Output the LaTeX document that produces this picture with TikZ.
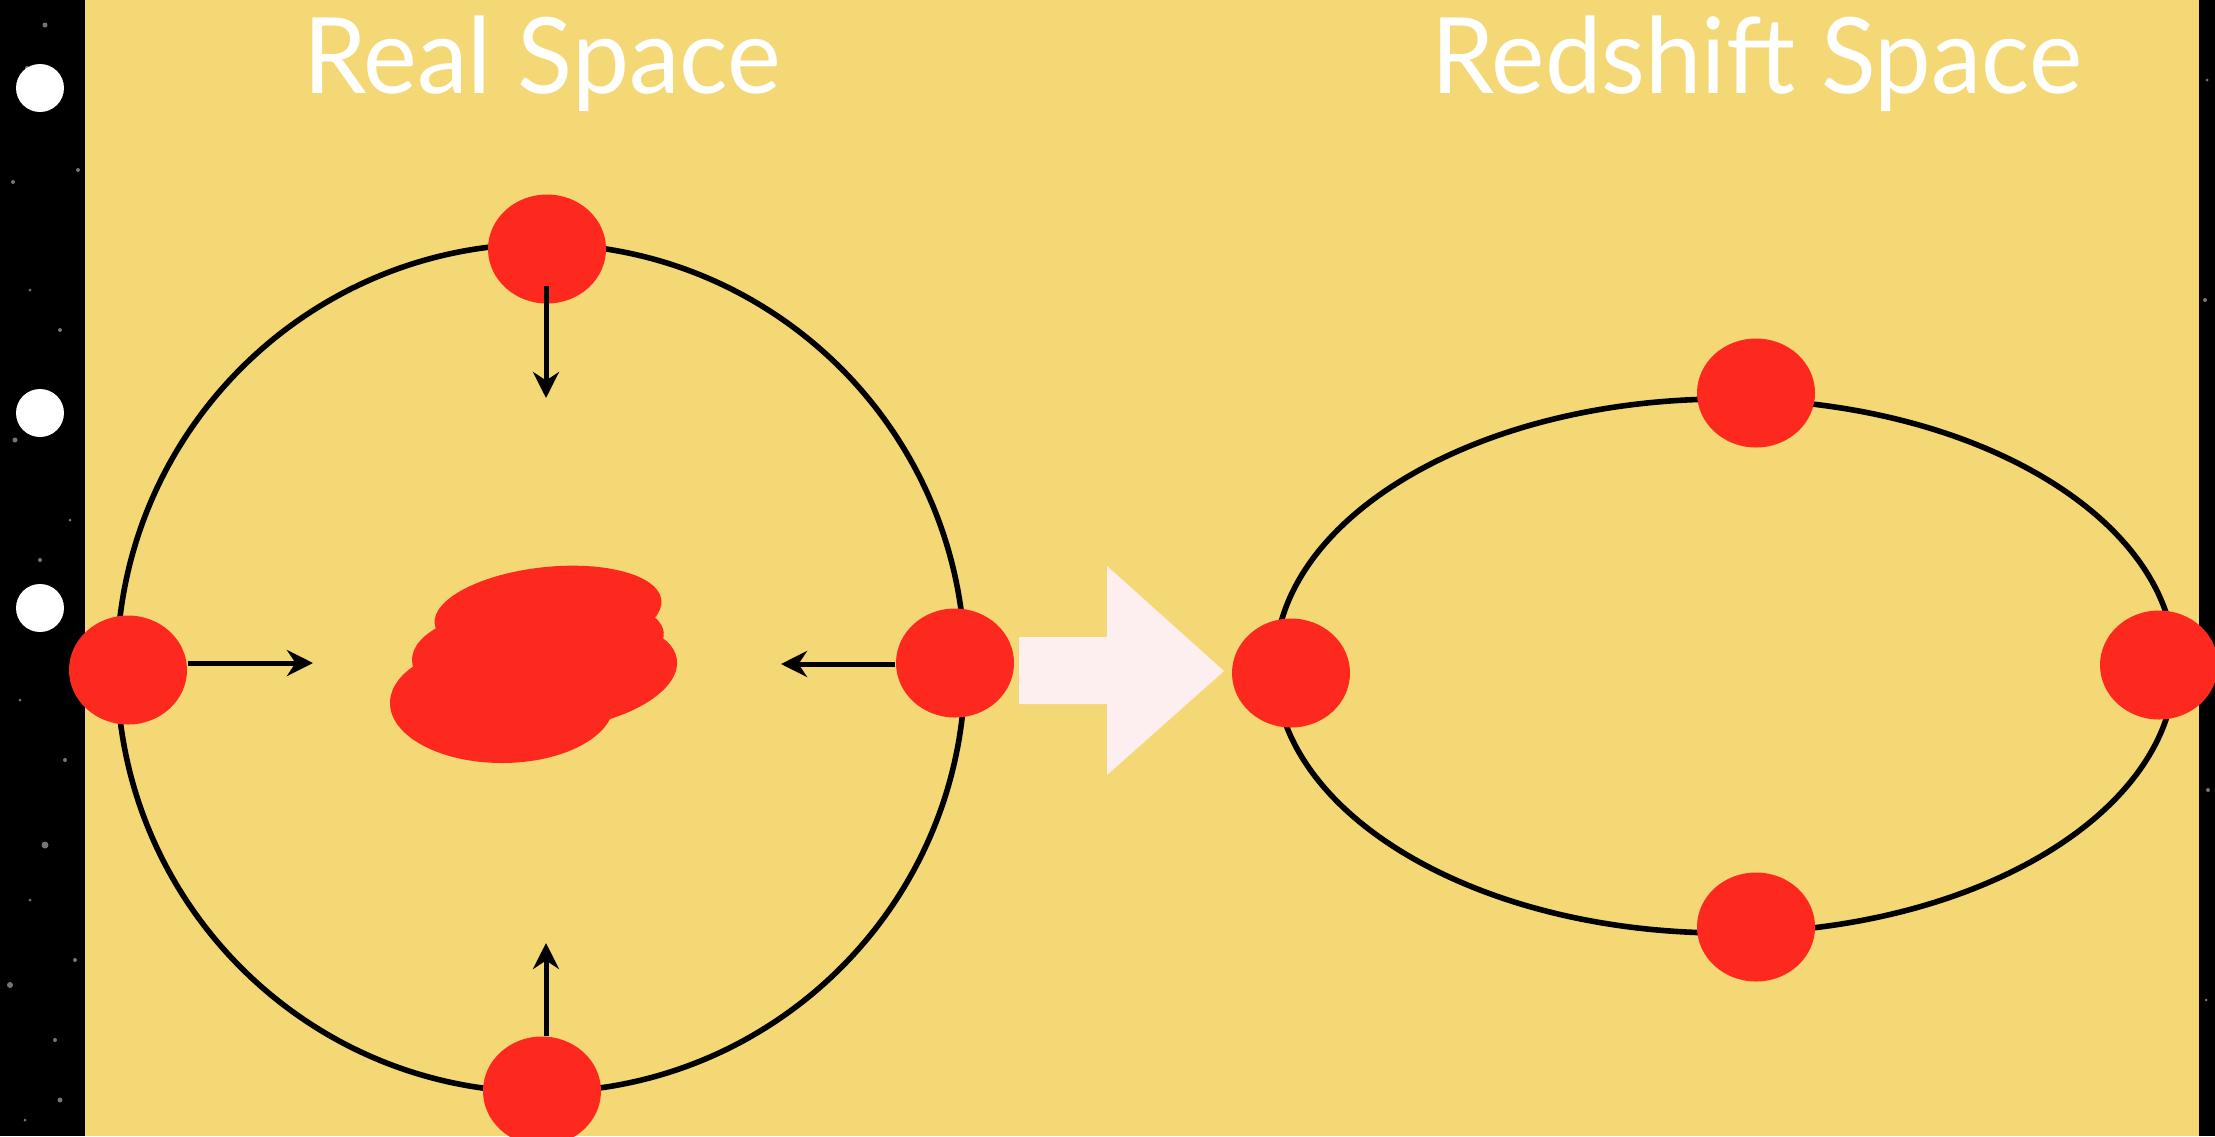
\documentclass[tikz,border=0pt]{standalone}
\usepackage{graphicx}
\usepackage{fontspec}
\setmainfont{Lato}
\usetikzlibrary{shapes.geometric,arrows.meta}

\definecolor{paper}{RGB}{244,216,118}
\definecolor{blobred}{RGB}{253,40,30}
\definecolor{pinkarrow}{RGB}{253,238,240}
\definecolor{starlight}{RGB}{120,115,120}

\tikzset{
  galaxy/.style={ellipse, fill=blobred, draw=none, inner sep=0pt,
                 minimum width=11.8mm, minimum height=10.9mm},
  shell/.style={draw=black, line width=0.56mm},
  infall/.style={draw=black, line width=0.5mm,
                 -{Stealth[length=2.6mm, width=2.6mm, inset=0.85mm]}},
  title/.style={text=white, inner sep=0pt, anchor=base,
                font=\fontsize{30}{36}\selectfont},
  bullet/.style={circle, fill=white, inner sep=0pt, minimum size=4.8mm},
}

\begin{document}
\begin{tikzpicture}[x=0.1mm, y=-0.1mm]
\useasboundingbox (0,0) rectangle (2215,1136);

% backdrop: paper panel between two strips of night sky
\fill[paper] (0,0) rectangle (2215,1136);
\fill[black] (0,0) rectangle (85,1136);
\fill[black] (2199,0) rectangle (2215,1136);
\foreach \sx/\sy/\sr in {45/25/2.5, 27/68/2, 58/88/3, 13/182/2, 78/170/2, 30/290/1.5,
    60/330/2, 15/440/2.5, 70/520/1.5, 40/560/2, 20/700/1.5, 65/760/2, 45/845/3.5,
    30/900/1.5, 75/960/2, 10/985/3, 55/1040/2, 60/1100/2.5, 25/1120/1.5,
    2207/80/1.5, 2205/300/2, 2208/790/2, 2206/1000/1.5}
  \fill[starlight] (\sx,\sy) circle[radius=\sr];
\node[bullet] (b1) at (40,88) {};
\node[bullet] (b2) at (40,413) {};
\node[bullet] (b3) at (40,608) {};

% headings
\node[title] (realT) at (542,93) {\scalebox{0.965}[1]{Real Space}};
\node[title] (redT) at (1757,93) {\scalebox{0.958}[1]{Redshift Space}};

% real space: spherical shell around a central overdensity
\draw[shell] (541,668) circle[radius=424];
\begin{scope}[fill=blobred]
  \fill (548,612) ellipse[x radius=114, y radius=45, rotate=6];
  \fill (560,640) ellipse[x radius=104, y radius=42, rotate=4];
  \fill (518,660) ellipse[x radius=106, y radius=50];
  \fill (565,675) ellipse[x radius=113, y radius=53, rotate=8];
  \fill (502,703) ellipse[x radius=112, y radius=60];
\end{scope}
\node[galaxy] (rt) at (547,249) {};
\node[galaxy] (rl) at (128,670) {};
\node[galaxy] (rr) at (955,663) {};
\node[galaxy] (rb) at (542,1091) {};

% infall velocities
\coordinate (rtS) at (546,286);
\coordinate (rtE) at (546,398);
\coordinate (rlE) at (313,663);
\coordinate (rrE) at (781,664);
\coordinate (rbE) at (546,943);
\draw[infall] (rtS) -- (rtE);
\draw[infall] (rl.east |- rlE) -- (rlE);
\draw[infall] (rr.west |- rrE) -- (rrE);
\draw[infall] (rb.north -| rbE) -- (rbE);

% mapping arrow
\fill[pinkarrow] (1019,637) -- (1107,637) -- (1107,566) -- (1224,671)
  -- (1107,775) -- (1107,704) -- (1019,704) -- cycle;

% redshift space: squashed shell
\draw[shell] (1725,666) ellipse[x radius=450, y radius=267];
\node[galaxy] (zt) at (1756,393) {};
\node[galaxy] (zl) at (1291,673) {};
\node[galaxy] (zr) at (2159,665) {};
\node[galaxy] (zb) at (1756,927) {};
\end{tikzpicture}
\end{document}
